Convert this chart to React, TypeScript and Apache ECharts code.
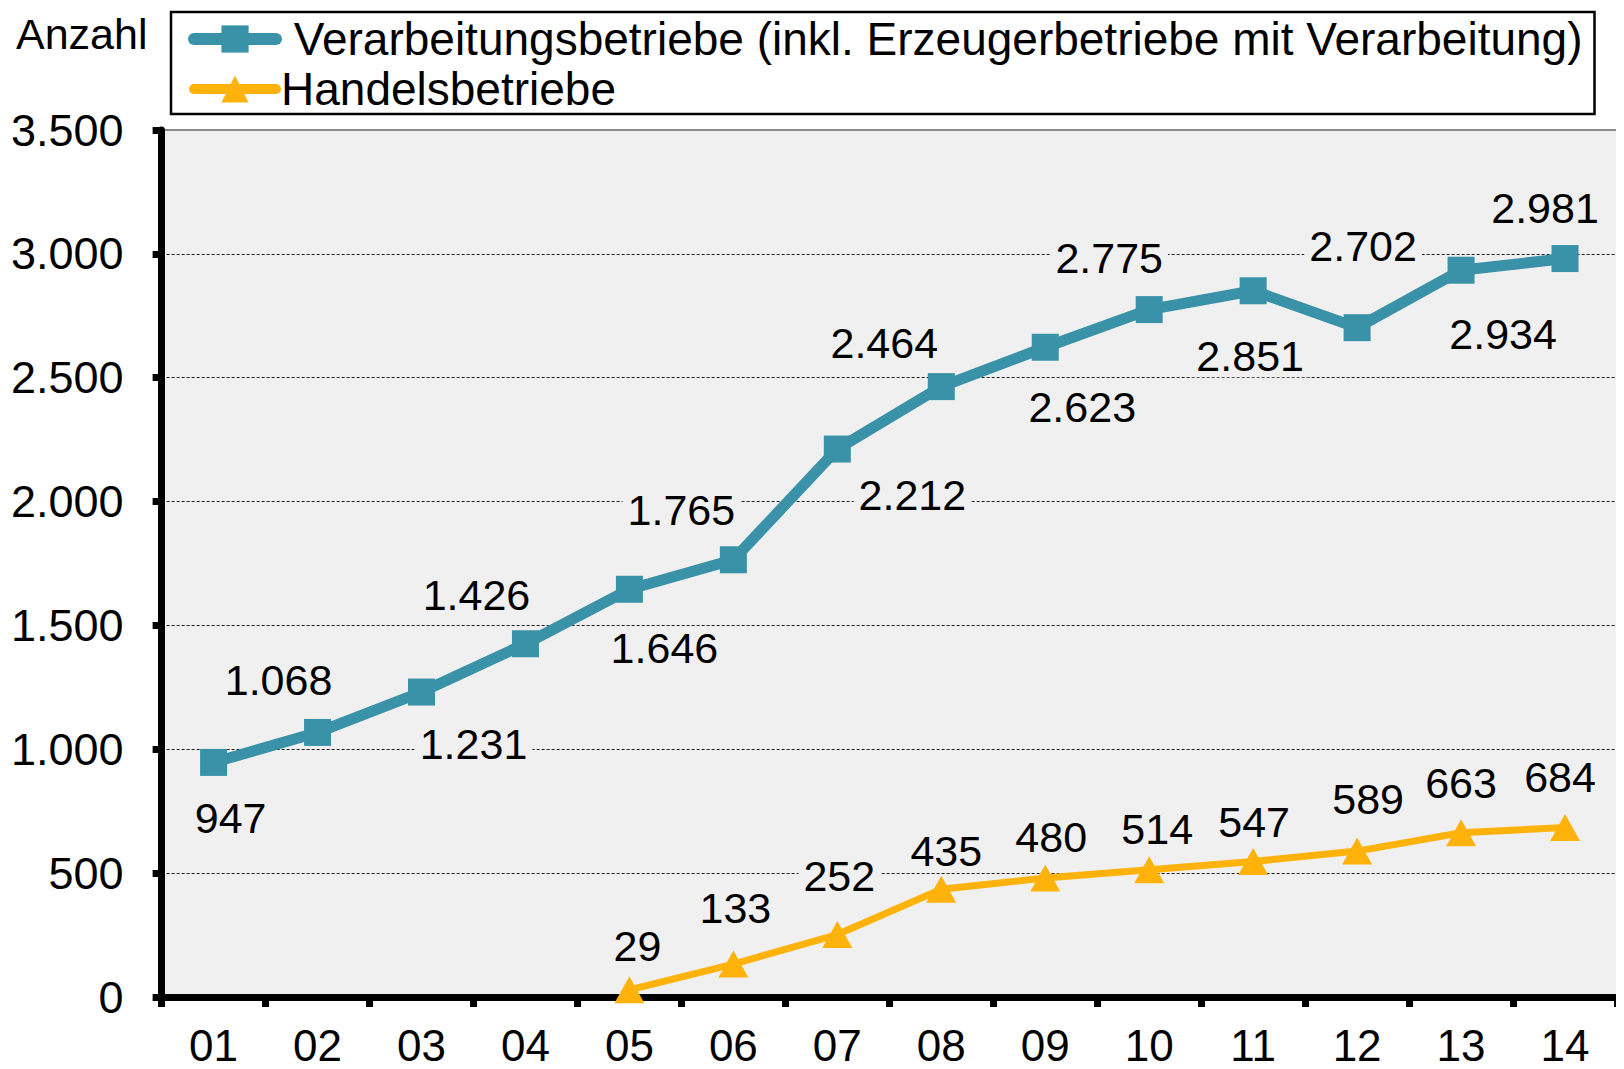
import React, { useEffect, useRef } from "react";
import * as echarts from "echarts";

const categories = ["01", "02", "03", "04", "05", "06", "07", "08", "09", "10", "11", "12", "13", "14"];
const verarbeitung = [947, 1068, 1231, 1426, 1646, 1765, 2212, 2464, 2623, 2775, 2851, 2702, 2934, 2981];
const handel = [null, null, null, null, 29, 133, 252, 435, 480, 514, 547, 589, 663, 684];
const yTicks = [0, 500, 1000, 1500, 2000, 2500, 3000, 3500];

const NAME_V = "Verarbeitungsbetriebe (inkl. Erzeugerbetriebe mit Verarbeitung)";
const NAME_H = "Handelsbetriebe";

// label placement offsets (layout only)
const offsetsV = [
  [17, 56], [-39, -52], [52, 52], [-49, -49], [35, 59], [-52, -50], [75, 46],
  [-57, -44], [37, 60], [-40, -52], [-3, 65], [6, -82], [42, 64], [-20, -51],
];
const offsetsH = [
  [0, 0], [0, 0], [0, 0], [0, 0], [8, -44], [2, -56], [2, -59],
  [5, -38], [6, -41], [8, -41], [1, -40], [11, -52], [0, -50], [-5, -51],
];

const fmt = (v: number) => String(Math.round(v)).replace(/\B(?=(\d{3})+(?!\d))/g, ".");

const TEAL = "#3A92A9";
const ORANGE = "#FFB20A";
const BG = "#F0F0F0";
const FONT = "Liberation Sans, Arial, sans-serif";

export default function App() {
  const ref = useRef<HTMLDivElement>(null);
  useEffect(() => {
    if (!ref.current) return;
    const chart = echarts.init(ref.current, null, { renderer: "svg" });
    const labelBase = {
      show: true,
      position: "inside",
      color: "#000",
      fontSize: 43,
      fontFamily: FONT,
      backgroundColor: BG,
      padding: [0, 5],
      formatter: (p: any) => fmt(p.value),
    };
    chart.setOption({
      animation: false,
      textStyle: { fontFamily: FONT },
      graphic: [
        {
          type: "text",
          left: 8,
          top: 4,
          style: { text: "Anzahl", fontSize: 43, lineHeight: 40, fontFamily: FONT, fill: "#000" },
        },
      ],
      legend: {
        orient: "vertical",
        left: 163,
        top: 4,
        padding: [4, 12, 2, 17],
        itemGap: 4,
        itemWidth: 82,
        itemHeight: 34,
        borderColor: "#000",
        borderWidth: 2.5,
        backgroundColor: "#fff",
        textStyle: { fontSize: 46, fontFamily: FONT, color: "#000" },
        formatter: (name: string) => (name === NAME_V ? " " + name : name),
        data: [
          { name: NAME_V, lineStyle: { width: 12, cap: "round" } },
          { name: NAME_H, lineStyle: { width: 10, cap: "round" } },
        ],
      },
      grid: {
        left: 150,
        right: 7,
        top: 122,
        bottom: 72,
        show: true,
        backgroundColor: BG,
        borderColor: "#8a8a8a",
        borderWidth: 2,
      },
      xAxis: {
        type: "category",
        data: categories,
        boundaryGap: true,
        axisLine: { lineStyle: { color: "#000", width: 7 } },
        axisTick: { show: true, length: 10, lineStyle: { color: "#000", width: 7 } },
        axisLabel: { fontSize: 44, lineHeight: 36, fontFamily: FONT, color: "#000", margin: 30 },
        splitLine: { show: false },
      },
      yAxis: {
        type: "value",
        min: yTicks[0],
        max: yTicks[yTicks.length - 1],
        interval: 500,
        axisLine: { show: true, lineStyle: { color: "#000", width: 7 } },
        axisTick: { show: true, length: 9, lineStyle: { color: "#000", width: 7 } },
        axisLabel: { fontSize: 45, fontFamily: FONT, color: "#000", margin: 38, formatter: (v: number) => fmt(v) },
        splitLine: { show: true, showMaxLine: false, lineStyle: { color: "#222", width: 1, type: [3, 2] } },
      },
      series: [
        {
          name: NAME_V,
          type: "line",
          data: verarbeitung.map((v, i) => ({
            value: v,
            label: { ...labelBase, offset: offsetsV[i] },
          })),
          symbol: "rect",
          symbolSize: 27,
          lineStyle: { color: TEAL, width: 11 },
          itemStyle: { color: TEAL },
          z: 3,
        },
        {
          name: NAME_H,
          type: "line",
          data: handel.map((v, i) => ({
            value: v === null ? "-" : v,
            label: { ...labelBase, offset: offsetsH[i] },
          })),
          symbol: "triangle",
          symbolSize: [30, 27],
          lineStyle: { color: ORANGE, width: 7 },
          itemStyle: { color: ORANGE },
          z: 4,
        },
      ],
    });
    return () => chart.dispose();
  }, []);
  return <div ref={ref} style={{ width: 1616, height: 1061 }} />;
}
